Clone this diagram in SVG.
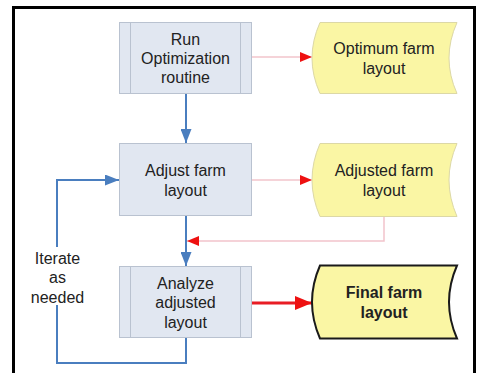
<svg xmlns="http://www.w3.org/2000/svg" width="477" height="373" viewBox="0 0 477 373">
<defs>
<style>
text{font-family:"Liberation Sans",Arial,sans-serif;font-size:16px;fill:#222;text-anchor:middle}
.box{fill:#e1e7f1;stroke:#b9c2d0;stroke-width:1}
.stripe{stroke:#b9c2d0;stroke-width:1;fill:none}
.data{fill:#faf6a4;stroke:#dcd8a6;stroke-width:1}
.final{fill:#faf6a4;stroke:#1a1a1a;stroke-width:2}
.blue{stroke:#4a7ebf;stroke-width:2;fill:none}
.pink{stroke:#f2c4cb;stroke-width:1.5;fill:none}
.red{stroke:#e81c24;stroke-width:3;fill:none}
.bold{font-weight:bold}
</style>
<marker id="ab" markerWidth="14" markerHeight="11" refX="14" refY="5.5" orient="auto" markerUnits="userSpaceOnUse"><path d="M0,0 L14,5.5 L0,11 Z" fill="#4a7ebf"/></marker>
<marker id="ar" markerWidth="12" markerHeight="10" refX="12" refY="5" orient="auto" markerUnits="userSpaceOnUse"><path d="M0,0 L12,5 L0,10 Z" fill="#ee1111"/></marker>
<marker id="arb" markerWidth="17" markerHeight="14" refX="17" refY="7" orient="auto" markerUnits="userSpaceOnUse"><path d="M0,0 L17,7 L0,14 Z" fill="#ee1111"/></marker>
</defs>
<rect x="0" y="0" width="477" height="373" fill="#ffffff"/>
<path d="M13.5,380 V7.5 H474.5 V380" fill="none" stroke="#000" stroke-width="3"/>

<g id="connectors">
<line class="blue" x1="186" y1="93" x2="186" y2="143" marker-end="url(#ab)"/>
<line class="blue" x1="186" y1="216" x2="186" y2="266" marker-end="url(#ab)"/>
<path class="blue" d="M186,338 V363 H57 V180 H119" marker-end="url(#ab)"/>
<line class="pink" x1="252" y1="57" x2="312" y2="57" marker-end="url(#ar)"/>
<line class="pink" x1="252" y1="180" x2="312" y2="180" marker-end="url(#ar)"/>
<path class="pink" d="M384,217 V241 H187" marker-end="url(#ar)"/>
<line class="red" x1="252" y1="303" x2="312" y2="303" marker-end="url(#arb)"/>
<rect x="28" y="247" width="59" height="58" fill="#ffffff"/>
<text x="57.5" y="263.5">Iterate</text>
<text x="57.5" y="283">as</text>
<text x="57.5" y="302.5">needed</text>
</g>

<g id="run">
<rect class="box" x="119.5" y="22.5" width="132" height="71"/>
<line class="stripe" x1="130.5" y1="22.5" x2="130.5" y2="93.5"/>
<line class="stripe" x1="240.5" y1="22.5" x2="240.5" y2="93.5"/>
<text x="185.5" y="44.5">Run</text>
<text x="185.5" y="63.5">Optimization</text>
<text x="185.5" y="82.5">routine</text>
</g>

<g id="adjust">
<rect class="box" x="119.5" y="143.5" width="132" height="72"/>
<text x="185.5" y="176">Adjust farm</text>
<text x="185.5" y="195.5">layout</text>
</g>

<g id="analyze">
<rect class="box" x="119.5" y="266.5" width="132" height="71"/>
<line class="stripe" x1="130.5" y1="266.5" x2="130.5" y2="337.5"/>
<line class="stripe" x1="240.5" y1="266.5" x2="240.5" y2="337.5"/>
<text x="185.5" y="289">Analyze</text>
<text x="185.5" y="308">adjusted</text>
<text x="185.5" y="327.5">layout</text>
</g>

<g id="optimum">
<path class="data" d="M320,22.5 H457 Q441,58 457,93.5 H320 Q304,58 320,22.5 Z"/>
<text x="384" y="54">Optimum farm</text>
<text x="384" y="74">layout</text>
</g>

<g id="adjusted">
<path class="data" d="M320,143.5 H457 Q441,180 457,216.5 H320 Q304,180 320,143.5 Z"/>
<text x="384" y="176">Adjusted farm</text>
<text x="384" y="195.5">layout</text>
</g>

<g id="final">
<path class="final" d="M320,265.5 H457 Q441,302 457,338.5 H320 Q304,302 320,265.5 Z"/>
<text class="bold" x="384" y="298">Final farm</text>
<text class="bold" x="384" y="318">layout</text>
</g>
</svg>
